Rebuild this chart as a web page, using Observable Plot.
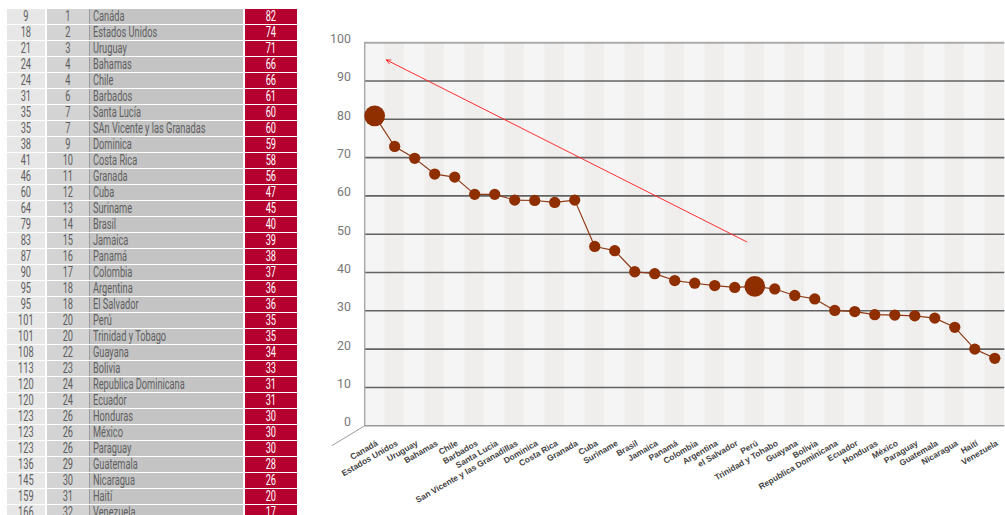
<!DOCTYPE html>
<html><head><meta charset="utf-8">
<script src="https://cdn.jsdelivr.net/npm/d3@7"></script>
<script src="https://cdn.jsdelivr.net/npm/@observablehq/plot@0.6"></script>
<style>
html,body{margin:0;padding:0;background:#fff;}
body{width:1005px;height:515px;overflow:hidden;position:relative;}
#table{position:absolute;left:0;top:0;width:300px;height:515px;}
.cell{position:absolute;box-sizing:border-box;height:15px;line-height:15px;font-family:Roboto,"Liberation Sans",sans-serif;font-size:14px;color:#606060;white-space:nowrap;overflow:hidden;}
.cell span{display:inline-block;transform:scaleX(0.66);}
.cell.center span{transform-origin:50% 50%;}
.cell.left span{transform-origin:0 50%;}
#chart{position:absolute;left:300px;top:0;}
</style></head><body>
<div id="table"></div><div id="chart"></div>
<script>
// ---- table data ----
const worldRank = [9,18,21,24,24,31,35,35,38,41,46,60,64,79,83,87,90,95,95,101,101,108,113,120,120,123,123,123,136,145,159,166];
const regionRank = [1,2,3,4,4,6,7,7,9,10,11,12,13,14,15,16,17,18,18,20,20,22,23,24,24,26,26,26,29,30,31,32];
const tableCountries = ["Canáda","Estados Unidos","Uruguay","Bahamas","Chile","Barbados","Santa Lucía","SAn Vicente y las Granadas","Dominica","Costa Rica","Granada","Cuba","Suriname","Brasil","Jamaica","Panamá","Colombia","Argentina","El Salvador","Perú","Trinidad y Tobago","Guayana","Bolivia","Republica Dominicana","Ecuador","Honduras","México","Paraguay","Guatemala","Nicaragua","Haití","Venezuela"];
const scores = [82,74,71,66,66,61,60,60,59,58,56,47,45,40,39,38,37,36,36,35,35,34,33,31,31,30,30,30,28,26,20,17];

// ---- chart data ----
const chartCountries = ["Canadá","Estados Unidos","Uruguay","Bahamas","Chile","Barbados","Santa Lucia","San Vicente y las Granadillas","Dominica","Costa Rica","Granada","Cuba","Suriname","Brasil","Jamaica","Panamá","Colombia","Argentina","el Salvador","Perú","Trinidad y Tohabo","Guayana","Bolivia","Republica Dominicana","Ecuador","Honduras","México","Paraguay","Guatemala","Nicaragua","Haití","Venezuela"];
const chartValues = [80.9,72.9,69.8,65.7,64.9,60.4,60.4,58.9,58.8,58.3,58.9,46.8,45.7,40.2,39.7,37.9,37.2,36.6,36.1,36.4,35.7,34.0,33.1,30.1,29.8,29.0,28.9,28.7,28.1,25.7,20.0,17.6];
const highlighted = ["Canadá","Perú"];
const yTicks = [0,10,20,30,40,50,60,70,80,90,100];
const trendArrow = [{x1: 18.6, y1: 48.0, x2: 0.58, y2: 95.5}];

// ---- table (built from the arrays) ----
const cols = [
  {get: i => worldRank[i], left: 7, width: 38, bg: "#e7e7e7", cls: "center"},
  {get: i => regionRank[i], left: 47, width: 42, bg: "#d3d3d3", cls: "center"},
  {get: i => tableCountries[i], left: 89, width: 154, bg: "#c4c4c4", cls: "left", pad: "0 0 0 3px", border: "1px solid #9c9c9c"},
  {get: i => scores[i], left: 245, width: 52, bg: "#b5002f", cls: "center", color: "#fff"}
];
const tbl = d3.select("#table");
d3.range(worldRank.length).forEach(i => {
  cols.forEach(c => {
    tbl.append("div").attr("class", "cell " + c.cls)
      .style("left", c.left + "px").style("top", (9 + i * 16) + "px")
      .style("width", c.width + "px").style("background", c.bg)
      .style("text-align", c.cls === "left" ? "left" : "center").style("padding", c.pad || "0")
      .style("border-left", c.border || "none")
      .style("color", c.color || "#606060")
      .append("span").text(c.get(i));
  });
});

// ---- chart ----
const n = chartCountries.length;
const idx = d3.range(n);
const stripes = idx.map(i => ({x1: i - 0.5, x2: i + 0.5, fill: i % 2 === 0 ? "#f5f5f5" : "#efeeed"}));
const floorEdge = [{x1: -0.5, y1: 0, x2: -2.14, y2: -5.2}];
const plot = Plot.plot({
  width: 714, height: 515,
  marginLeft: 65, marginRight: 0.7, marginTop: 42.7, marginBottom: 84.3,
  x: {domain: [-0.5, n - 0.5], axis: null},
  y: {domain: [0, 100], axis: null},
  color: {type: "identity"},
  style: {fontFamily: "Roboto, 'Liberation Sans', sans-serif", background: "transparent", overflow: "visible"},
  marks: [
    Plot.rect(stripes, {x1: "x1", x2: "x2", y1: 0, y2: 100, fill: "fill"}),
    Plot.ruleY(yTicks.filter(t => t > 0 && t < 100), {stroke: "#626262", strokeWidth: 1.6}),
    Plot.ruleY([100], {stroke: "#aaa", strokeWidth: 2}),
    Plot.ruleY([0], {stroke: "#999", strokeWidth: 1.5}),
    Plot.ruleX([-0.5], {y1: 0, y2: 100, stroke: "#aaa", strokeWidth: 1.5}),
    Plot.link(floorEdge, {x1: "x1", y1: "y1", x2: "x2", y2: "y2", stroke: "#999", strokeWidth: 1}),
    Plot.text(yTicks, {x: -0.5, y: d => d, text: d => String(d), textAnchor: "end", dx: -14, dy: -3.5, fontSize: 12.5, fill: "#777"}),
    Plot.line(idx, {x: i => i, y: i => chartValues[i], stroke: "#8f3a14", strokeWidth: 1.2}),
    Plot.dot(idx.filter(i => !highlighted.includes(chartCountries[i])), {x: i => i, y: i => chartValues[i], r: 5.7, fill: "#8f2f00"}),
    Plot.dot(idx.filter(i => highlighted.includes(chartCountries[i])), {x: i => i, y: i => chartValues[i], r: 10.5, fill: "#8f2f00"}),
    Plot.arrow(trendArrow, {x1: "x1", y1: "y1", x2: "x2", y2: "y2", stroke: "#ff2b2b", strokeWidth: 1, headLength: 7, headAngle: 50}),
    Plot.text(idx, {x: i => i, y: 0, text: i => chartCountries[i], rotate: -30, textAnchor: "end", dx: 2.5, dy: 17, fontSize: 8.5, fontWeight: "bold", fill: "#444", fontFamily: "'Liberation Sans', Arial, sans-serif"})
  ]
});
document.getElementById("chart").appendChild(plot);
</script>
</body></html>
